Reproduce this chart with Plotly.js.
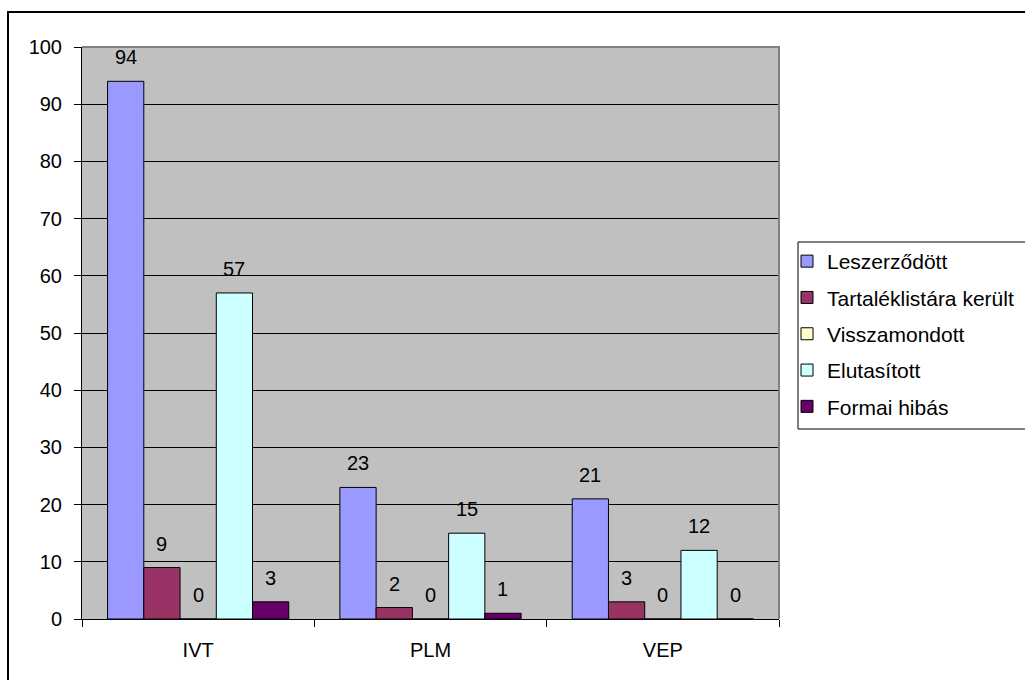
<!DOCTYPE html>
<html>
<head>
<meta charset="utf-8">
<script src="https://cdn.plot.ly/plotly-3.0.1.min.js"></script>
<style>
html,body{margin:0;padding:0;background:#fff;}
#chart{width:1025px;height:680px;}
</style>
</head>
<body>
<div id="chart"></div>
<script>
const categories = ['IVT', 'PLM', 'VEP'];
const seriesNames = ['Leszerződött', 'Tartaléklistára került', 'Visszamondott', 'Elutasított', 'Formai hibás'];
const leszerzodott = [94, 23, 21];
const tartaleklista = [9, 2, 3];
const visszamondott = [0, 0, 0];
const elutasitott = [57, 15, 12];
const formaiHibas = [3, 1, 0];
const yTicks = [0, 10, 20, 30, 40, 50, 60, 70, 80, 90, 100];

const seriesValues = [leszerzodott, tartaleklista, visszamondott, elutasitott, formaiHibas];
const colors = ['#9999FF', '#993366', '#FFFFCC', '#CCFFFF', '#660066'];

const W = 1025, H = 680;
const margin = {l: 82, r: 246, t: 47, b: 61, autoexpand: false};
const plotW = W - margin.l - margin.r;
const plotH = H - margin.t - margin.b;
const bargap = 0.22;
const barW = plotW / categories.length * (1 - bargap) / seriesNames.length;
const px2x = p => (p - margin.l) / plotW;
const px2y = p => (H - margin.b - p) / plotH;
const FONT = 'Liberation Sans, Arial, sans-serif';

const traces = seriesNames.map((name, i) => ({
  type: 'bar',
  name: name,
  x: categories,
  y: seriesValues[i],
  legendgroup: 'g' + i,
  marker: {color: colors[i], line: {color: '#000000', width: 1}},
  hoverinfo: 'x+y+name'
}));

const annotations = [];
seriesValues.forEach((vals, i) => {
  vals.forEach((v, j) => {
    annotations.push({
      x: categories[j], y: v, xref: 'x', yref: 'y',
      text: String(v), showarrow: false,
      xanchor: 'center', yanchor: 'bottom',
      xshift: (i - (seriesNames.length - 1) / 2) * barW,
      yshift: 11,
      font: {family: FONT, size: 20, color: '#000'}
    });
  });
});

const shapes = [
  {type: 'rect', xref: 'paper', yref: 'paper', layer: 'above',
   x0: px2x(8), x1: px2x(1040), y0: px2y(700), y1: px2y(12),
   line: {color: '#000', width: 2}, fillcolor: 'rgba(0,0,0,0)'},
  {type: 'path', xref: 'paper', yref: 'paper', layer: 'above',
   path: 'M 0 1 L 1 1 L 1 0',
   line: {color: '#808080', width: 2}},
  {type: 'rect', xref: 'paper', yref: 'paper', layer: 'above',
   x0: px2x(798), x1: px2x(1040), y0: px2y(429), y1: px2y(242),
   line: {color: '#000', width: 1}, fillcolor: 'rgba(0,0,0,0)'}
];

const layout = {
  width: W, height: H,
  margin: margin,
  paper_bgcolor: '#ffffff',
  plot_bgcolor: '#C0C0C0',
  barmode: 'group',
  bargap: bargap,
  bargroupgap: 0,
  font: {family: FONT, size: 20, color: '#000'},
  showlegend: true,
  legend: {
    x: px2x(787), y: px2y(241), xanchor: 'left', yanchor: 'top',
    bgcolor: 'rgba(0,0,0,0)', borderwidth: 0,
    font: {family: FONT, size: 21, color: '#000'},
    traceorder: 'grouped', tracegroupgap: 6,
    itemclick: false, itemdoubleclick: false
  },
  xaxis: {
    type: 'category',
    tickson: 'boundaries',
    ticks: 'outside', ticklen: 7, tickcolor: '#000', tickwidth: 1,
    showline: true, linecolor: '#000', linewidth: 1,
    showgrid: false, zeroline: false,
    ticklabelstandoff: 13,
    tickfont: {family: FONT, size: 20, color: '#000'},
    fixedrange: true
  },
  yaxis: {
    range: [0, 100],
    tickvals: yTicks,
    ticktext: yTicks.map(String),
    ticks: 'outside', ticklen: 7, tickcolor: '#000', tickwidth: 1,
    showline: true, linecolor: '#000', linewidth: 1,
    showgrid: true, gridcolor: '#000', gridwidth: 1,
    zeroline: false,
    ticklabelstandoff: 8,
    tickfont: {family: FONT, size: 20, color: '#000'},
    fixedrange: true
  },
  annotations: annotations,
  shapes: shapes
};

Plotly.newPlot('chart', traces, layout, {displayModeBar: false, staticPlot: true});
</script>
</body>
</html>
